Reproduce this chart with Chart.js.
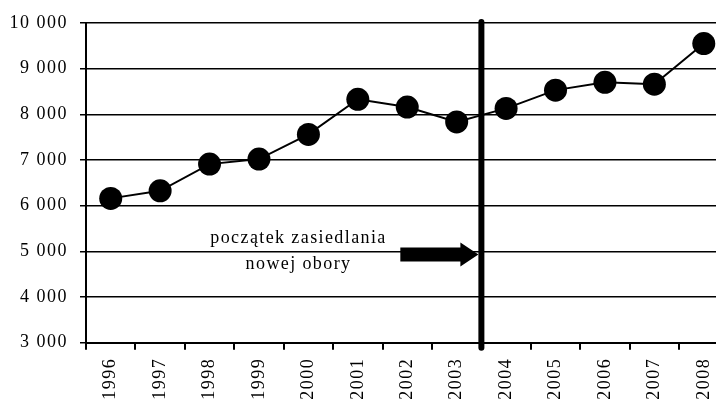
<!DOCTYPE html>
<html>
<head>
<meta charset="utf-8">
<script src="https://cdn.jsdelivr.net/npm/chart.js@4/dist/chart.umd.min.js"></script>
<style>
  html, body { margin: 0; padding: 0; background: #fff; overflow: hidden; width: 716px; height: 400px; }
  #wrap { width: 740px; height: 400px; }
</style>
</head>
<body>
<div id="wrap"><canvas id="c" width="740" height="400"></canvas></div>
<script>
const years = ['1996','1997','1998','1999','2000','2001','2002','2003','2004','2005','2006','2007','2008'];
const values = [6160, 6325, 6910, 7020, 7560, 8330, 8160, 7835, 8130, 8530, 8700, 8660, 9550];
const yMin = 3000, yMax = 10000, yStep = 1000;
const annotationLines = ['początek zasiedlania', 'nowej obory'];
const markerBetween = [7, 8];   // vertical line between 2003 and 2004

const FONT = '"Liberation Serif", "Times New Roman", serif';

function fmt(v) { return String(v).replace(/\B(?=(\d{3})+(?!\d))/g, ' '); }

const annotPlugin = {
  id: 'annot',
  beforeDraw(chart) { chart.ctx.letterSpacing = '1.5px'; },
  afterDatasetsDraw(chart) {
    const ctx = chart.ctx, x = chart.scales.x, y = chart.scales.y;
    ctx.save();
    ctx.letterSpacing = '1.4px';
    // vertical marker line
    const lx = (x.getPixelForValue(markerBetween[0]) + x.getPixelForValue(markerBetween[1])) / 2;
    ctx.strokeStyle = '#000';
    ctx.lineWidth = 6;
    ctx.lineCap = 'round';
    ctx.beginPath();
    ctx.moveTo(lx, chart.chartArea.top - 1);
    ctx.lineTo(lx, chart.chartArea.bottom + 5);
    ctx.stroke();
    // arrow
    const step = x.getPixelForValue(1) - x.getPixelForValue(0);
    const ay = y.getPixelForValue(4930);
    const ax0 = x.getPixelForValue(0) + 5.86 * step;
    const tip = lx - 3;
    const headLen = 18, headH = 12, shaftH = 7;
    ctx.fillStyle = '#000';
    ctx.beginPath();
    ctx.moveTo(ax0, ay - shaftH);
    ctx.lineTo(tip - headLen, ay - shaftH);
    ctx.lineTo(tip - headLen, ay - headH);
    ctx.lineTo(tip, ay);
    ctx.lineTo(tip - headLen, ay + headH);
    ctx.lineTo(tip - headLen, ay + shaftH);
    ctx.lineTo(ax0, ay + shaftH);
    ctx.closePath();
    ctx.fill();
    // text
    const tx = x.getPixelForValue(0) + 3.80 * step;
    ctx.font = '18px ' + FONT;
    ctx.textAlign = 'center';
    ctx.textBaseline = 'alphabetic';
    ctx.fillText(annotationLines[0], tx, y.getPixelForValue(5190));
    ctx.fillText(annotationLines[1], tx, y.getPixelForValue(4620));
    ctx.restore();
  }
};

new Chart(document.getElementById('c'), {
  type: 'line',
  data: {
    labels: years,
    datasets: [{
      data: values,
      borderColor: '#000',
      borderWidth: 2,
      backgroundColor: '#000',
      pointBackgroundColor: '#000',
      pointBorderColor: '#000',
      pointRadius: 11.5,
      pointBorderWidth: 0,
      tension: 0,
      fill: false
    }]
  },
  options: {
    responsive: false,
    animation: false,
    events: [],
    layout: { padding: { top: 23, right: 11.5, left: 0, bottom: 0 } },
    plugins: { legend: { display: false }, tooltip: { enabled: false } },
    scales: {
      x: {
        type: 'category',
        offset: true,
        grid: { offset: true, drawOnChartArea: false, color: '#000', lineWidth: 2, tickLength: 7 },
        border: { color: '#000', width: 2 },
        ticks: { color: '#000', font: { family: FONT, size: 18 }, minRotation: 90, maxRotation: 90, padding: 8, autoSkip: false },
        afterFit(s) { s.height = 57.3; }
      },
      y: {
        min: yMin, max: yMax,
        grid: { color: '#000', lineWidth: 1.5, tickLength: 6 },
        border: { color: '#000', width: 2 },
        ticks: { stepSize: yStep, color: '#000', font: { family: FONT, size: 18 }, padding: 12, callback: v => fmt(v) },
        afterFit(s) { s.width = 86; }
      }
    }
  },
  plugins: [annotPlugin]
});
</script>
</body>
</html>
